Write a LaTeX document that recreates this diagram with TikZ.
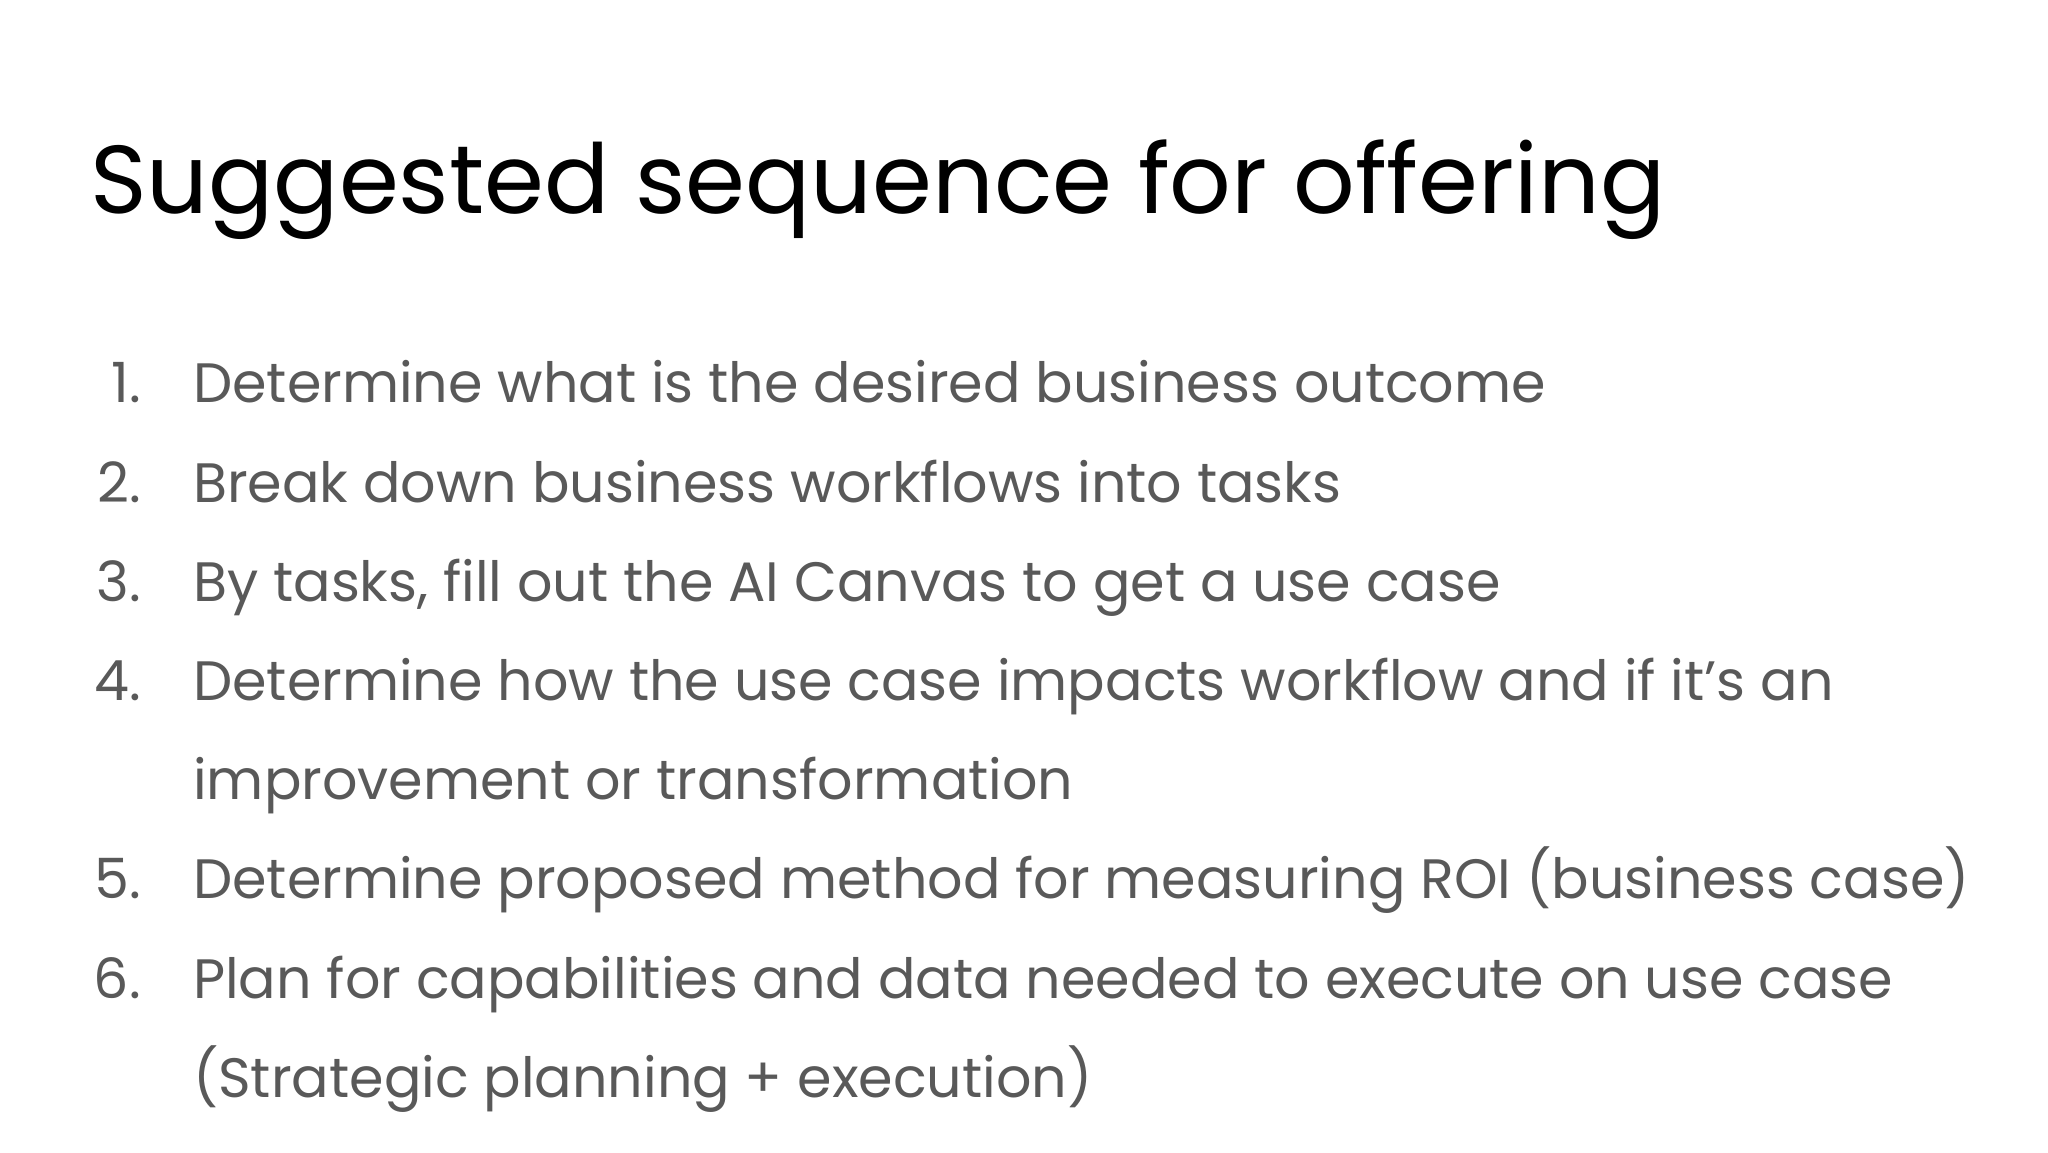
\documentclass[tikz,border=0pt]{standalone}
\usepackage{fontspec}
\setmainfont{Poppins}
\definecolor{txt}{HTML}{595959}
\begin{document}
\begin{tikzpicture}[x=1pt,y=-1pt,
  item/.style={anchor=base west,text=txt,font=\fontsize{55.5}{60}\selectfont,inner sep=0},
  num/.style={anchor=base east,text=txt,font=\fontsize{55.5}{60}\selectfont,inner sep=0}]
\useasboundingbox (0,0) rectangle (2048,1152);
\node[anchor=base west,inner sep=0,font=\fontsize{96.5}{110}\selectfont] (title) at (90,213) {Suggested sequence for offering};
\foreach \n/\y/\t in {1/402/Determine what is the desired business outcome,
  2/502/Break down business workflows into tasks,
  3/601/{By tasks, fill out the AI Canvas to get a use case},
  4/700/Determine how the use case impacts workflow and if it’s an,
  5/898/Determine proposed method for measuring ROI (business case),
  6/998/Plan for capabilities and data needed to execute on use case}
  {\node[num] (n\n) at (141,\y) {\n.}; \node[item] (t\n) at (193,\y) {\t};}
\node[item] (t4b) at (193,799) {improvement or transformation};
\node[item] (t6b) at (193,1097) {(Strategic planning + execution)};
\end{tikzpicture}
\end{document}
